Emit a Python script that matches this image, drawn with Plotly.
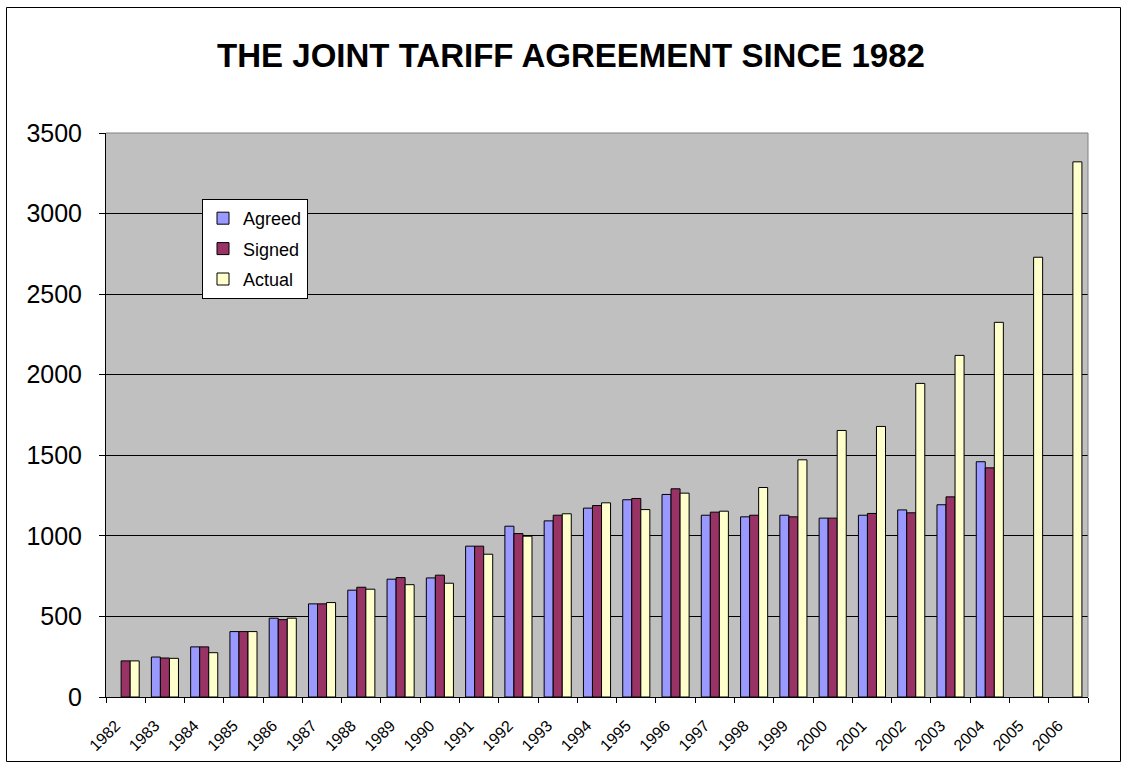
import plotly.graph_objects as go

years = [str(y) for y in range(1982, 2007)]
agreed = [None, 248, 311, 406, 489, 578, 663, 731, 739, 936, 1060, 1093, 1172, 1224, 1257,
          1128, 1118, 1128, 1110, 1128, 1161, 1193, 1460, None, None]
signed = [224, 242, 311, 406, 480, 578, 681, 741, 756, 936, 1014, 1128, 1188, 1232, 1292,
          1147, 1128, 1118, 1110, 1139, 1143, 1242, 1422, None, None]
actual = [224, 240, 275, 406, 489, 586, 669, 697, 706, 886, 998, 1137, 1205, 1163, 1265,
          1153, 1300, 1472, 1654, 1679, 1946, 2120, 2325, 2729, 3321]

series = [("Agreed", agreed, "#9999FF"), ("Signed", signed, "#993366"), ("Actual", actual, "#FFFFCC")]

FONT = "Arial, Liberation Sans, sans-serif"
fig = go.Figure()
for i, (name, vals, col) in enumerate(series):
    fig.add_trace(go.Bar(x=years, y=vals, name=name, legendgroup=name,
                         marker=dict(color=col, line=dict(color="black", width=1))))

L, R, T, B = 106, 1088, 133, 697
W, H = 1126, 764
pw, ph = R - L, B - T

def px(x):
    return (x - L) / pw

def py(y):
    return (B - y) / ph

fig.update_layout(
    width=W, height=H,
    margin=dict(l=L, r=W - R, t=T, b=H - B, pad=0, autoexpand=False),
    paper_bgcolor="white", plot_bgcolor="#C0C0C0",
    barmode="group", bargap=0.31, bargroupgap=0,
    font=dict(family=FONT, color="black"),
    title=dict(text="<b>THE JOINT TARIFF AGREEMENT SINCE 1982</b>", x=px(571), xref="paper",
               xanchor="center", y=1 - 55 / H, yanchor="middle",
               font=dict(size=33, family=FONT, color="black")),
    showlegend=True,
    legend=dict(x=px(202), y=py(199), xanchor="left", yanchor="top",
                bgcolor="white", bordercolor="black", borderwidth=1,
                font=dict(size=18, family=FONT), traceorder="grouped",
                tracegroupgap=4, itemwidth=30),
    xaxis=dict(type="category", tickangle=-45, tickfont=dict(size=16, family=FONT),
               ticks="outside", tickson="boundaries", ticklen=5, tickcolor="black",
               ticklabelshift=-10, ticklabelstandoff=12, automargin=False,
               showline=True, linecolor="black", linewidth=1, showgrid=False,
               zeroline=False),
    yaxis=dict(range=[0, 3500], dtick=500, tickfont=dict(size=25, family=FONT),
               ticks="outside", ticklen=6, tickcolor="black", ticklabelstandoff=12,
               automargin=False,
               showline=True, linecolor="black", linewidth=1,
               showgrid=True, gridcolor="black", gridwidth=1, zeroline=False),
)

# plot area top/right border (grey)
fig.add_shape(type="line", xref="paper", yref="paper", x0=0, x1=1, y0=1, y1=1,
              line=dict(color="#808080", width=1))
fig.add_shape(type="line", xref="paper", yref="paper", x0=1, x1=1, y0=0, y1=1,
              line=dict(color="#808080", width=1))
# outer chart border
fig.add_shape(type="rect", xref="paper", yref="paper",
              x0=px(6.5), x1=px(1120.5), y0=py(761.5), y1=py(7.5),
              line=dict(color="black", width=1), layer="above")

fig.write_html("out.html", config={"displayModeBar": False},
               post_script="document.body.style.margin='0';document.body.style.overflow='hidden';")
